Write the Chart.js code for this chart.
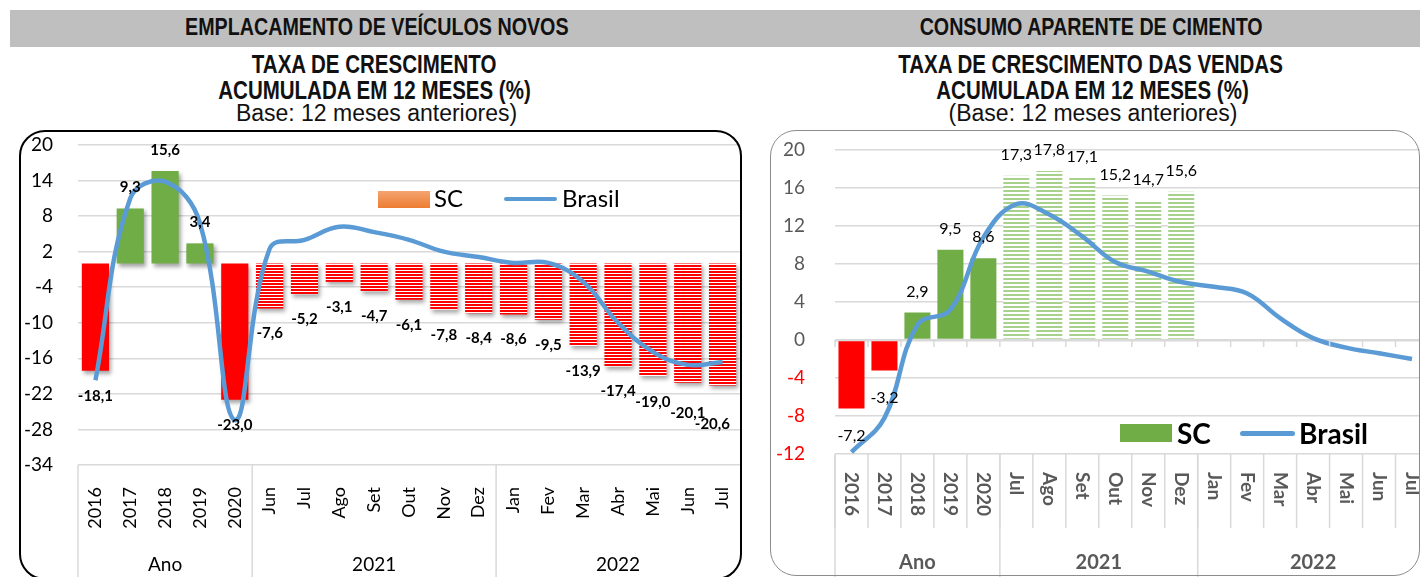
<!DOCTYPE html>
<html>
<head>
<meta charset="utf-8">
<script src="https://cdn.jsdelivr.net/npm/chart.js@4.4.1/dist/chart.umd.min.js"></script>
<style>
  body { margin:0; width:1420px; height:577px; overflow:hidden; background:#fff; position:relative; font-family:"Liberation Sans",Arial,sans-serif; }
  .band { position:absolute; left:10px; top:10px; width:1410px; height:37px; background:#bfbfbf; }
  .t { position:absolute; text-align:center; color:#111; line-height:30px; height:30px; white-space:nowrap; }
  .t span { display:inline-block; transform:scaleX(0.82); }
  .head { font-size:24px; font-weight:bold; }
  .sub { font-size:25px; font-weight:bold; }
  .base { font-size:23px; }
  .base span { transform:none; }
  .box { position:absolute; box-sizing:border-box; pointer-events:none; z-index:3; }
  .wrap { position:absolute; }
  .lg { position:absolute; font-family:Lato,sans-serif; color:#000; z-index:4; white-space:nowrap; }
</style>
</head>
<body>
<div class="band"></div>

<div class="t head" style="left:0;width:754px;top:12px;"><span>EMPLACAMENTO DE VEÍCULOS NOVOS</span></div>
<div class="t sub" style="left:0;width:748px;top:49px;"><span>TAXA DE CRESCIMENTO</span></div>
<div class="t sub" style="left:0;width:750px;top:75px;"><span>ACUMULADA EM 12 MESES (%)</span></div>
<div class="t base" style="left:0;width:753px;top:98px;"><span>Base: 12 meses anteriores)</span></div>

<div class="t head" style="left:762px;width:658px;top:12px;"><span>CONSUMO APARENTE DE CIMENTO</span></div>
<div class="t sub" style="left:762px;width:658px;top:49px;"><span>TAXA DE CRESCIMENTO DAS VENDAS</span></div>
<div class="t sub" style="left:762px;width:662px;top:75px;"><span>ACUMULADA EM 12 MESES (%)</span></div>
<div class="t base" style="left:762px;width:662px;top:98px;"><span>(Base: 12 meses anteriores)</span></div>

<div class="box" style="left:19px;top:130px;width:723px;height:450px;border:2.5px solid #000;border-radius:26px;"></div>
<div class="box" style="left:770px;top:130px;width:650px;height:446px;border:1.5px solid #8c8c8c;border-radius:26px;"></div>

<div class="wrap" style="left:0;top:130px;width:745px;height:447px;"><canvas id="veic" width="745" height="447"></canvas></div>
<div class="wrap" style="left:770px;top:130px;width:665px;height:447px;"><canvas id="cim" width="665" height="447"></canvas></div>

<!-- legends -->
<div class="lg" style="left:378px;top:191px;width:52px;height:17px;background:linear-gradient(#f4a470,#ed7d31);"></div>
<div class="lg" style="left:434px;top:183px;font-size:24px;">SC</div>
<div class="lg" style="left:504px;top:197px;width:53px;height:4px;background:#5b9bd5;border-radius:2px;"></div>
<div class="lg" style="left:562px;top:183px;font-size:24px;">Brasil</div>

<div class="lg" style="left:1120px;top:424px;width:52px;height:18px;background:#70ad47;"></div>
<div class="lg" style="left:1177px;top:416px;font-size:28px;font-weight:bold;">SC</div>
<div class="lg" style="left:1240px;top:431px;width:55px;height:5px;background:#5b9bd5;border-radius:3px;"></div>
<div class="lg" style="left:1299px;top:416px;font-size:28px;font-weight:bold;">Brasil</div>

<script>
// ---- emplacamento de veiculos novos ----
var veicLabels = ['2016','2017','2018','2019','2020','Jun','Jul','Ago','Set','Out','Nov','Dez','Jan','Fev','Mar','Abr','Mai','Jun','Jul']
var veicGroups = ['Ano','2021','2022']
var veicGroupSizes = [5,7,7]
var veicSC = [-18.1,9.3,15.6,3.4,-23.0,-7.6,-5.2,-3.1,-4.7,-6.1,-7.8,-8.4,-8.6,-9.5,-13.9,-17.4,-19.0,-20.1,-20.6]
var veicBrasil = [-19.7,11.0,13.8,6.8,-26.4,2.5,4.0,6.2,5.3,4.0,2.0,1.1,0.1,0.1,-3.1,-10.0,-14.9,-17.1,-16.6]

// ---- consumo aparente de cimento ----
var cimLabels = ['2016','2017','2018','2019','2020','Jul','Ago','Set','Out','Nov','Dez','Jan','Fev','Mar','Abr','Mai','Jun','Jul']
var cimGroups = ['Ano','2021','2022']
var cimGroupSizes = [5,6,7]
var cimSC = [-7.2,-3.2,2.9,9.5,8.6,17.3,17.8,17.1,15.2,14.7,15.6,null,null,null,null,null,null,null]
var cimBrasil = [-11.8,-8.2,1.6,3.2,10.8,14.3,13.2,10.9,8.2,7.2,6.1,5.6,4.9,2.3,0.2,-0.8,-1.4,-2.0]

var RED = '#ff0000'
var GREEN = '#70ad47'
var BLUE = '#5b9bd5'
var GRID = '#d9d9d9'

function stripes(ctx, c1, c2, h1, h2) {
    var p = document.createElement('canvas')
    p.width = 4
    p.height = h1 + h2
    var g = p.getContext('2d')
    g.fillStyle = c2
    g.fillRect(0, 0, 4, h1 + h2)
    g.fillStyle = c1
    g.fillRect(0, 0, 4, h1)
    return ctx.createPattern(p, 'repeat')
}

function fmt(v) {
    return v.toFixed(1).replace('.', ',')
}

// numbers on the bars (pushed down a little when they would overlap the previous one)
var barLabels = {
    id: 'barLabels',
    afterDatasetsDraw(chart, args, o) {
        var ctx = chart.ctx
        var area = chart.chartArea
        var meta = chart.getDatasetMeta(0)
        var data = chart.data.datasets[0].data
        var prev = null
        ctx.save()
        ctx.font = o.font
        ctx.fillStyle = '#000'
        ctx.textAlign = 'center'
        ctx.textBaseline = 'middle'
        meta.data.forEach((bar, i) => {
            var v = data[i]
            if (v === null || v === undefined) return
            var txt = fmt(v)
            var w = ctx.measureText(txt).width
            var x = Math.min(bar.x, area.right - w / 2 - 10)
            var y = v < 0 ? bar.y + o.below : bar.y - o.above
            if (prev && v < 0 && prev.v < 0 && x - w / 2 < prev.right && Math.abs(y - prev.y) < 11) {
                y = prev.y + 11
            }
            ctx.fillText(txt, x, y)
            prev = { v: v, y: y, right: x + w / 2 }
        })
        ctx.restore()
    }
}

// category labels + group labels under the plot
var catAxis = {
    id: 'catAxis',
    afterDraw(chart, args, o) {
        var ctx = chart.ctx
        var xs = chart.scales.x
        var ys = chart.scales.y
        var area = chart.chartArea
        var n = chart.data.labels.length
        var step = (area.right - area.left) / n
        var bottom = chart.height
        ctx.save()
        ctx.strokeStyle = GRID
        ctx.lineWidth = 1.5

        // thin separators between every category (right chart)
        if (o.smallLines) {
            var y0 = ys.getPixelForValue(0)
            for (var i = 0; i <= n; i++) {
                var bx = area.left + i * step
                ctx.beginPath()
                ctx.moveTo(bx, area.bottom)
                ctx.lineTo(bx, area.bottom + o.smallLines)
                ctx.stroke()
                ctx.beginPath()
                ctx.moveTo(bx, y0)
                ctx.lineTo(bx, y0 + 7)
                ctx.stroke()
            }
        }

        // group separators
        var idx = 0
        var edges = [0]
        o.sizes.forEach(s => { idx += s; edges.push(idx) })
        edges.forEach((e, k) => {
            if (k === edges.length - 1) return
            var bx = area.left + e * step
            ctx.beginPath()
            ctx.moveTo(bx, area.bottom)
            ctx.lineTo(bx, bottom)
            ctx.stroke()
        })

        // rotated tick labels
        ctx.fillStyle = o.color
        ctx.font = o.tickFont
        ctx.textBaseline = 'middle'
        chart.data.labels.forEach((lab, i) => {
            var cx = xs.getPixelForValue(i)
            ctx.save()
            ctx.translate(cx, area.bottom + o.tickOffset)
            if (o.down) {
                ctx.rotate(Math.PI / 2)
                ctx.textAlign = 'left'
            } else {
                ctx.rotate(-Math.PI / 2)
                ctx.textAlign = 'right'
            }
            ctx.fillText(lab, 0, 0)
            ctx.restore()
        })

        // group names
        ctx.font = o.groupFont
        ctx.textAlign = 'center'
        for (var g = 0; g < o.groups.length; g++) {
            var gx = area.left + (edges[g] + edges[g + 1]) / 2 * step
            ctx.fillText(o.groups[g], gx, area.bottom + o.groupOffset)
        }
        ctx.restore()
    }
}

var shadow = {
    id: 'shadow',
    beforeDatasetDraw(chart, args, o) {
        if (!o.on || args.index !== 0) return
        chart.ctx.save()
        chart.ctx.shadowColor = 'rgba(0,0,0,0.35)'
        chart.ctx.shadowBlur = 4
        chart.ctx.shadowOffsetX = 2
        chart.ctx.shadowOffsetY = 3
    },
    afterDatasetDraw(chart, args, o) {
        if (!o.on || args.index !== 0) return
        chart.ctx.restore()
    }
}

Chart.register(barLabels, catAxis, shadow)

// y axis: fixed width, no extra label padding on top/bottom
function fixAxis(w) {
    return function (s) {
        s.width = w
        s.paddingTop = 0
        s.paddingBottom = 0
    }
}

// left chart
var c1 = document.getElementById('veic').getContext('2d')
var redStripe = stripes(c1, RED, '#ffffff', 2, 1)
var veicColors = veicSC.map((v, i) => i < 5 ? (v < 0 ? RED : GREEN) : redStripe)

new Chart(c1, {
    type: 'bar',
    data: {
        labels: veicLabels,
        datasets: [{
            label: 'SC',
            data: veicSC,
            backgroundColor: veicColors,
            barPercentage: 0.78,
            categoryPercentage: 1,
            order: 1
        }, {
            type: 'line',
            label: 'Brasil',
            data: veicBrasil,
            borderColor: BLUE,
            borderWidth: 4.5,
            pointRadius: 0,
            tension: 0.4,
            order: 0
        }]
    },
    options: {
        responsive: false,
        animation: false,
        devicePixelRatio: 1,
        layout: { padding: { top: 15, right: 5, bottom: 112, left: 0 } },
        scales: {
            x: { display: false },
            y: {
                min: -34, max: 20,
                afterFit: fixAxis(78),
                ticks: { stepSize: 6, color: '#000', padding: 25, font: { family: 'Lato', size: 19 } },
                grid: { color: GRID, lineWidth: 1.5, drawTicks: false },
                border: { display: false }
            }
        },
        plugins: {
            legend: { display: false },
            tooltip: { enabled: false },
            barLabels: { font: 'bold 15px Lato', below: 25, above: 21 },
            catAxis: {
                groups: veicGroups, sizes: veicGroupSizes, color: '#000',
                tickFont: '18px Lato', groupFont: '19px Lato',
                tickOffset: 22, groupOffset: 100, down: false, smallLines: 0
            },
            shadow: { on: true }
        }
    }
})

// right chart
var c2 = document.getElementById('cim').getContext('2d')
var greenStripe = stripes(c2, '#a9d18e', '#ffffff', 2, 2)
var cimColors = cimSC.map((v, i) => i < 5 ? (v < 0 ? RED : GREEN) : greenStripe)

new Chart(c2, {
    type: 'bar',
    data: {
        labels: cimLabels,
        datasets: [{
            label: 'SC',
            data: cimSC,
            backgroundColor: cimColors,
            barPercentage: 0.79,
            categoryPercentage: 1,
            order: 1
        }, {
            type: 'line',
            label: 'Brasil',
            data: cimBrasil,
            borderColor: BLUE,
            borderWidth: 4.5,
            pointRadius: 0,
            tension: 0.4,
            order: 0
        }]
    },
    options: {
        responsive: false,
        animation: false,
        devicePixelRatio: 1,
        layout: { padding: { top: 20, right: 6.5, bottom: 123, left: 0 } },
        scales: {
            x: { display: false },
            y: {
                min: -12, max: 20,
                afterFit: fixAxis(65),
                ticks: {
                    stepSize: 4, padding: 30, font: { family: 'Lato', size: 19 },
                    color: ctx => ctx.tick.value < 0 ? RED : '#595959'
                },
                grid: { color: GRID, lineWidth: ctx => ctx.tick.value === 0 ? 2.5 : 1.5, drawTicks: false },
                border: { display: false }
            }
        },
        plugins: {
            legend: { display: false },
            tooltip: { enabled: false },
            barLabels: { font: '16px Lato', below: 27, above: 21 },
            catAxis: {
                groups: cimGroups, sizes: cimGroupSizes, color: '#595959',
                tickFont: 'bold 19px Lato', groupFont: 'bold 20px Lato',
                tickOffset: 18, groupOffset: 109, down: true, smallLines: 74
            },
            shadow: { on: false }
        }
    }
})
</script>
</body>
</html>
